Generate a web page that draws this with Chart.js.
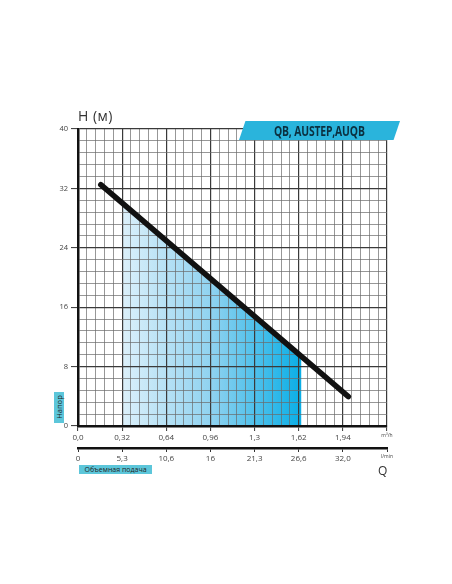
<!DOCTYPE html>
<html>
<head>
<meta charset="utf-8">
<script src="https://cdn.jsdelivr.net/npm/chart.js@4"></script>
<style>
  body { margin: 0; background: #fff; }
  #wrap { position: relative; width: 452px; height: 584px; font-family: "Open Sans", "DejaVu Sans", sans-serif; }
  #chart { position: absolute; left: 0; top: 0; }
  .lbl { position: absolute; white-space: nowrap; }
  #hTitle { left: 78px; top: 106px; font-size: 14px; color: #333; letter-spacing: 0.5px; }
  #banner { left: 239px; top: 121px; width: 161px; height: 19px; background: #2ab4dc;
            clip-path: polygon(4% 0, 100% 0, 96% 100%, 0 100%); }
  #bannerText { left: 239px; top: 121px; width: 161px; height: 19px; line-height: 19px; text-align: center;
                font-weight: bold; font-size: 14px; color: #0b3040; }
  #bannerText span { display: inline-block; transform: scaleX(0.74); letter-spacing: -0.2px; }
  #napor { left: 54px; top: 392px; width: 10px; height: 31px; background: #5cc6da; }
  #naporText { left: 59px; top: 407px; transform: translate(-50%, -50%) rotate(-90deg); font-size: 7.5px; color: #222; }
  #podacha { left: 79px; top: 465px; width: 73px; height: 9px; background: #5cc6da; font-size: 7px; line-height: 9px; text-align: center; color: #222; }
  #qLabel { left: 378px; top: 462px; font-size: 12px; color: #333; }
</style>
</head>
<body>
<div id="wrap">
  <canvas id="chart" width="452" height="584"></canvas>
  <div class="lbl" id="hTitle">H (м)</div>
  <div class="lbl" id="banner"></div>
  <div class="lbl" id="bannerText"><span>QB, AUSTEP,AUQB</span></div>
  <div class="lbl" id="napor"></div>
  <div class="lbl" id="naporText">Напор</div>
  <div class="lbl" id="podacha">Объемная подача</div>
  <div class="lbl" id="qLabel">Q</div>
</div>
<script>
// данные кривой напора
const curveQ = [0.165, 1.96];
const curveH = [32.5, 3.95];

// рабочая зона (заливка)
const zoneQ = [0.32, 1.62];
const zoneH = [30.0, 9.4];

// подписи осей
const xTickLabels = ["0,0", "0,32", "0,64", "0,96", "1,3", "1,62", "1,94", "m³/h"];
const lminLabels = ["0", "5,3", "10,6", "16", "21,3", "26,6", "32,0", "l/min"];
const yTickLabels = ["0", "8", "16", "24", "32", "40"];

const X_MAX = 2.24;
const Y_MAX = 40;
const MINOR = 5; // делений в крупной клетке

// сетка: мелкие деления
const xGrid = Array.from({ length: 7 * MINOR + 1 }, (_, i) => (X_MAX / (7 * MINOR)) * i);
const yGrid = Array.from({ length: 5 * MINOR + 1 }, (_, i) => (Y_MAX / (5 * MINOR)) * i);
const xMajor = xGrid.filter((_, i) => i % MINOR === 0);

const gridColor = (ctx) => (ctx.index % MINOR === 0 ? "#3a3a3a" : "#6a6a6a");
const gridWidth = (ctx) => (ctx.index % MINOR === 0 ? 1.2 : 0.7);
const tickColor = (ctx) => (ctx.index % MINOR === 0 ? "#333" : "rgba(0,0,0,0)");
const labelFont = (ctx) => ({ family: "Open Sans", size: ctx.index === xTickLabels.length - 1 ? 5 : 8 });

function zoneGradient(ctx) {
  const { chart } = ctx;
  const area = chart.chartArea;
  if (!area) return "#7fcdee";
  const x = chart.scales.x;
  const g = chart.ctx.createLinearGradient(x.getPixelForValue(zoneQ[0]), 0, x.getPixelForValue(zoneQ[1]), 0);
  g.addColorStop(0, "#dcf0fa");
  g.addColorStop(0.5, "#8fd2f0");
  g.addColorStop(1, "#0aaee6");
  return g;
}

const chart = new Chart(document.getElementById("chart").getContext("2d"), {
  type: "line",
  data: {
    datasets: [
      {
        data: curveQ.map((q, i) => ({ x: q, y: curveH[i] })),
        borderColor: "#111",
        borderWidth: 5.5,
        borderCapStyle: "round",
        pointRadius: 0,
        fill: false,
      },
      {
        data: zoneQ.map((q, i) => ({ x: q, y: zoneH[i] })),
        borderWidth: 0,
        borderColor: "rgba(0,0,0,0)",
        pointRadius: 0,
        fill: "origin",
        backgroundColor: zoneGradient,
      },
    ],
  },
  options: {
    responsive: false,
    animation: false,
    layout: { padding: { top: 129, left: 0, right: 65, bottom: 116 } },
    plugins: {
      legend: { display: false },
      tooltip: { enabled: false },
      filler: { drawTime: "beforeDraw" },
    },
    scales: {
      x: {
        type: "linear",
        position: "bottom",
        min: 0,
        max: X_MAX,
        afterBuildTicks: (s) => { s.ticks = xGrid.map((v) => ({ value: v })); },
        afterFit: (s) => { s.height = 22; },
        grid: { color: gridColor, lineWidth: gridWidth, tickColor, tickLength: 5, tickWidth: 1 },
        border: { display: true, color: "#111", width: 2.5 },
        ticks: {
          autoSkip: false,
          maxRotation: 0,
          padding: 2,
          color: "#444",
          font: (ctx) => ({ family: "Open Sans", size: ctx.index === 7 * MINOR ? 5 : 8 }),
          callback: (v, i) => (i % MINOR === 0 ? xTickLabels[i / MINOR] : ""),
        },
      },
      x2: {
        type: "linear",
        position: "bottom",
        min: 0,
        max: X_MAX,
        afterBuildTicks: (s) => { s.ticks = xMajor.map((v) => ({ value: v })); },
        afterFit: (s) => { s.height = 20; },
        grid: { display: true, drawOnChartArea: false, color: "#333", tickLength: 4, tickWidth: 1 },
        border: { display: true, color: "#111", width: 2.5 },
        ticks: {
          autoSkip: false,
          maxRotation: 0,
          padding: 2,
          color: "#444",
          font: labelFont,
          callback: (v, i) => lminLabels[i],
        },
      },
      y: {
        type: "linear",
        min: 0,
        max: Y_MAX,
        afterBuildTicks: (s) => { s.ticks = yGrid.map((v) => ({ value: v })); },
        afterFit: (s) => { s.width = 78; },
        grid: { color: gridColor, lineWidth: gridWidth, tickColor, tickLength: 7, tickWidth: 1 },
        border: { display: true, color: "#111", width: 2.5 },
        ticks: {
          autoSkip: false,
          padding: 3,
          color: "#444",
          font: { family: "Open Sans", size: 7.5 },
          callback: (v, i) => (i % MINOR === 0 ? yTickLabels[i / MINOR] : ""),
        },
      },
    },
  },
});
</script>
</body>
</html>
